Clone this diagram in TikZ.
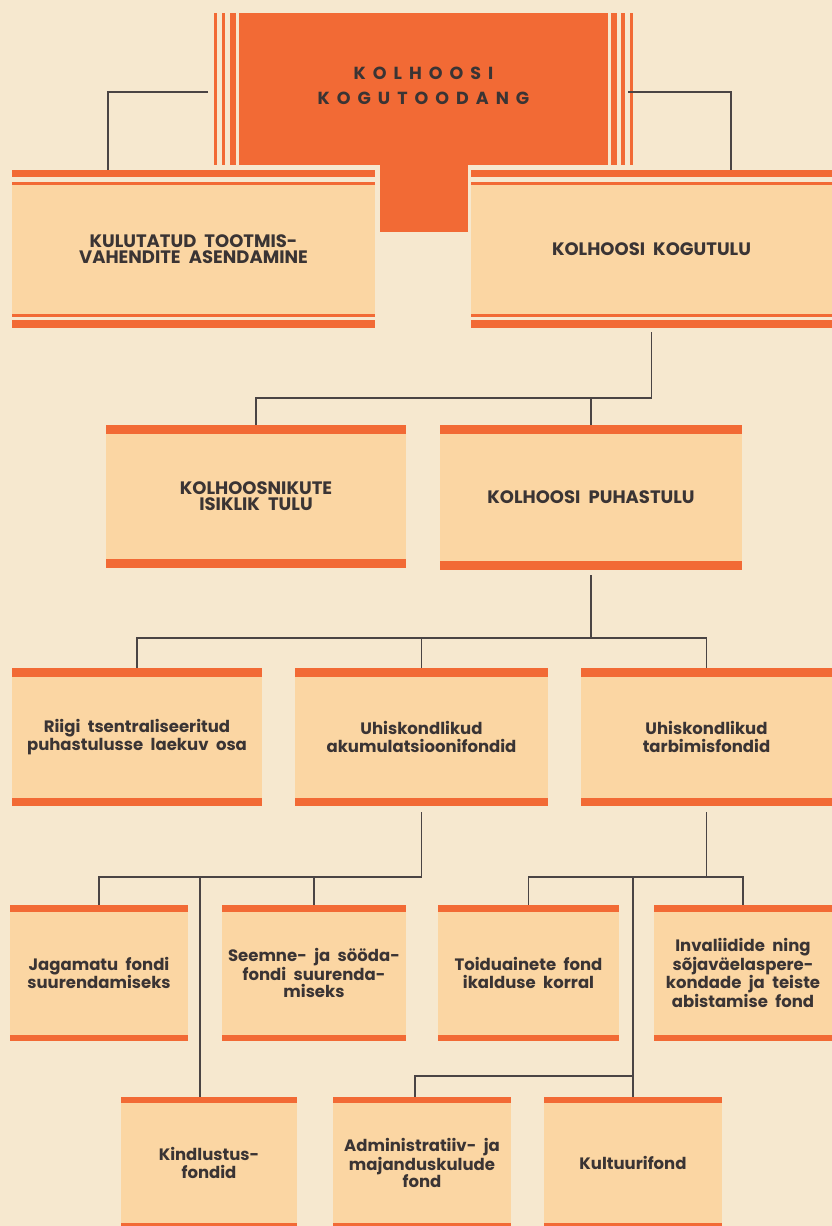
\documentclass[tikz,border=0pt]{standalone}
\usepackage{fontspec}
\setmainfont{Poppins}
\newfontfamily\spacedfont{Poppins}[LetterSpace=40]
\definecolor{paper}{HTML}{F6E8CF}
\definecolor{boxfill}{HTML}{FBD6A3}
\definecolor{hot}{HTML}{F26A35}
\definecolor{ink}{HTML}{3A3434}
\definecolor{wire}{HTML}{4A4444}
\newcommand\widespaces{\spaceskip=0.45em plus 0.1em\relax}

\tikzset{
  link/.style={draw=wire, line width=1.2pt},
  fund/.style={fill=boxfill, inner sep=0pt, align=center, text=ink,
    font=\bfseries\fontsize{16.5}{17.5}\selectfont\widespaces,
    path picture={
      \fill[hot] (path picture bounding box.north west) rectangle ([yshift=-#1]path picture bounding box.north east);
      \fill[hot] (path picture bounding box.south west) rectangle ([yshift=#1]path picture bounding box.south east);
    }},
  fund/.default=9pt,
  mainfund/.style={fill=boxfill, inner sep=0pt, align=center, text=ink,
    font=\bfseries\fontsize{18}{15.5}\selectfont\widespaces,
    path picture={
      \fill[paper] (path picture bounding box.north west) rectangle ([yshift=-12pt]path picture bounding box.north east);
      \fill[hot] (path picture bounding box.north west) rectangle ([yshift=-7pt]path picture bounding box.north east);
      \fill[hot] ([yshift=-12pt]path picture bounding box.north west) rectangle ([yshift=-14.5pt]path picture bounding box.north east);
      \fill[paper] (path picture bounding box.south west) rectangle ([yshift=14pt]path picture bounding box.south east);
      \fill[hot] (path picture bounding box.south west) rectangle ([yshift=8pt]path picture bounding box.south east);
      \fill[hot] ([yshift=11pt]path picture bounding box.south west) rectangle ([yshift=14pt]path picture bounding box.south east);
    }},
  capfund/.style={fund=#1, font=\bfseries\fontsize{18}{16}\selectfont\widespaces},
}

\begin{document}
\begin{tikzpicture}[x=1pt, y=-1pt]
  \fill[paper] (0,0) rectangle (832,1226);
  \useasboundingbox (0,0) rectangle (832,1226);

  % top block
  \fill[hot] (239,13) rectangle (608,165);
  \fill[hot] (380,160) rectangle (468,232);
  \foreach \xa/\xb in {214/217, 222/225, 230/236, 611/617, 621/625, 630/633}
    \fill[hot] (\xa,13) rectangle (\xb,165);
  \node[font=\spacedfont\bfseries\fontsize{17.5}{25}\selectfont, text=ink, align=center,
        minimum width=421pt, minimum height=152pt, inner sep=0pt] (prod) at (423.5,86) {KOLHOOSI\\KOGUTOODANG};
  \coordinate (tapl) at (208,92);
  \coordinate (tapr) at (628,92);

  \node[mainfund, minimum width=363pt, minimum height=158pt] (repl) at (193.5,249) {KULUTATUD TOOTMIS-\\VAHENDITE ASENDAMINE};
  \node[mainfund, minimum width=361pt, minimum height=158pt] (income) at (651.5,249) {KOLHOOSI KOGUTULU};

  \node[capfund=9pt, minimum width=300pt, minimum height=143pt] (personal) at (256,496.5) {KOLHOOSNIKUTE\\ISIKLIK TULU};
  \node[capfund=9pt, minimum width=302pt, minimum height=145pt] (net) at (591,497.5) {KOLHOOSI PUHASTULU};

  \node[fund=8.5pt, minimum width=250pt, minimum height=138pt] (state) at (137,737) {Riigi tsentraliseeritud\\puhastulusse laekuv osa};
  \node[fund=8.5pt, minimum width=253pt, minimum height=138pt] (accum) at (421.5,737) {Uhiskondlikud\\akumulatsioonifondid};
  \node[fund=8.5pt, minimum width=251pt, minimum height=138pt] (consum) at (706.5,737) {Uhiskondlikud\\tarbimisfondid};

  \node[fund=6.5pt, minimum width=178pt, minimum height=136pt] (undiv) at (99,973) {Jagamatu fondi\\suurendamiseks};
  \node[fund=6.5pt, minimum width=184pt, minimum height=136pt] (seed) at (314,973) {Seemne- ja sööda-\\fondi suurenda-\\miseks};
  \node[fund=6.5pt, minimum width=181pt, minimum height=136pt] (food) at (528.5,973) {Toiduainete fond\\ikalduse korral};
  \node[fund=6.5pt, minimum width=178pt, minimum height=136pt] (aid) at (743,973) {Invaliidide ning\\sõjaväelaspere-\\kondade ja teiste\\abistamise fond};

  \node[fund=6pt, minimum width=176pt, minimum height=132pt] (insur) at (209,1163) {Kindlustus-\\fondid};
  \node[fund=6pt, minimum width=178pt, minimum height=132pt] (admin) at (422,1163) {Administratiiv- ja\\majanduskulude\\fond};
  \node[fund=6pt, minimum width=178pt, minimum height=132pt] (culture) at (633,1163) {Kultuurifond};

  % connectors
  \draw[link] (tapl) -| ([xshift=-85.5pt]repl.north);
  \draw[link] (tapr) -| ([xshift=79.5pt]income.north);

  \coordinate (bus1) at (income.south |- 0,398);
  \draw[link, shorten <=4pt] (income.south) -- (bus1) -| (personal.north);
  \draw[link] (bus1) -| (net.north);

  \coordinate (bus2) at (net.south |- 0,638);
  \draw[link, shorten <=5pt] (net.south) -- (bus2) -| (state.north);
  \draw[link] (bus2) -| (consum.north);
  \draw[link] (accum.north) -- (accum.north |- bus2);

  \coordinate (bus3) at (accum.south |- 0,877);
  \draw[link, shorten <=6pt] (accum.south) -- (bus3) -| (undiv.north);
  \draw[link] (bus3) -| (seed.north);
  \draw[link] ([xshift=-9pt]insur.north) -- ([xshift=-9pt]insur.north |- bus3);

  \coordinate (bus4) at (consum.south |- 0,877);
  \draw[link, shorten <=6pt] (consum.south) -- (bus4);
  \draw[link] (food.north) -- (food.north |- bus4) -- (aid.north |- bus4) -- (aid.north);
  \draw[link] (culture.north) -- (culture.north |- bus4);
  \coordinate (bus5) at (culture.north |- 0,1076);
  \draw[link] (bus5) -| ([xshift=-7pt]admin.north);
\end{tikzpicture}
\end{document}
